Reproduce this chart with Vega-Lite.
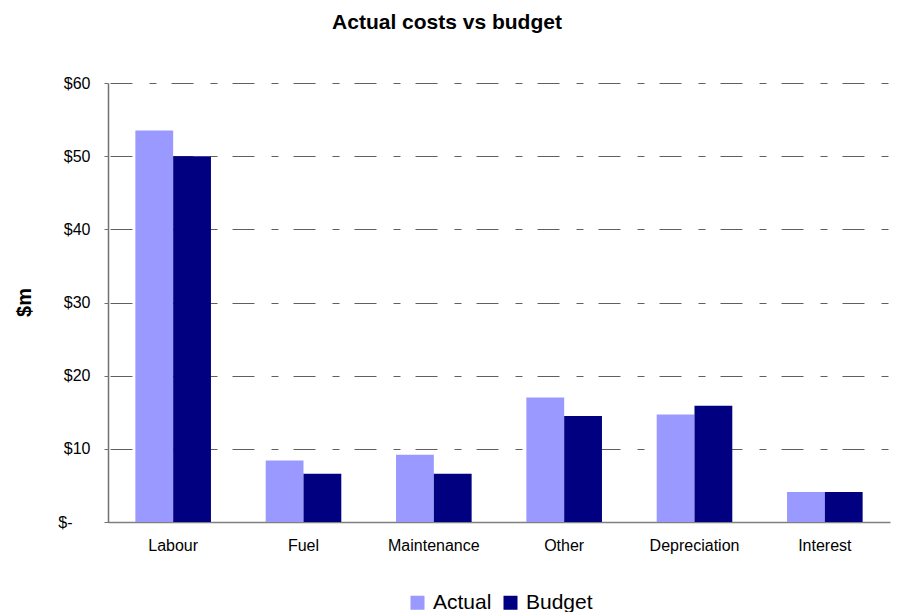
{
  "$schema": "https://vega.github.io/schema/vega-lite/v6.json",
  "width": 782,
  "height": 439,
  "autosize": {"type": "none"},
  "padding": {"left": 108, "top": 83, "right": 7, "bottom": 90},
  "background": "white",
  "title": {
    "text": "Actual costs vs budget",
    "font": "Liberation Sans",
    "fontSize": 21,
    "fontWeight": "bold",
    "color": "#000000",
    "anchor": "middle",
    "dx": -52,
    "offset": 42
  },
  "data": {
    "values": [
      {"category": "Labour", "series": "Actual", "value": 53.5},
      {"category": "Labour", "series": "Budget", "value": 50.0},
      {"category": "Fuel", "series": "Actual", "value": 8.4},
      {"category": "Fuel", "series": "Budget", "value": 6.6},
      {"category": "Maintenance", "series": "Actual", "value": 9.2},
      {"category": "Maintenance", "series": "Budget", "value": 6.6},
      {"category": "Other", "series": "Actual", "value": 17.0},
      {"category": "Other", "series": "Budget", "value": 14.5},
      {"category": "Depreciation", "series": "Actual", "value": 14.7},
      {"category": "Depreciation", "series": "Budget", "value": 15.9},
      {"category": "Interest", "series": "Actual", "value": 4.1},
      {"category": "Interest", "series": "Budget", "value": 4.1}
    ]
  },
  "mark": {"type": "bar"},
  "encoding": {
    "x": {
      "field": "category",
      "type": "nominal",
      "sort": ["Labour", "Fuel", "Maintenance", "Other", "Depreciation", "Interest"],
      "scale": {"paddingInner": 0.42, "paddingOuter": 0.21},
      "axis": {
        "title": null,
        "labelAngle": 0,
        "labelFont": "Liberation Sans",
        "labelFontSize": 16,
        "labelColor": "#000000",
        "labelPadding": 15,
        "ticks": false,
        "tickSize": 0,
        "domainColor": "#808080",
        "domainWidth": 1.5,
        "grid": false
      }
    },
    "xOffset": {
      "field": "series",
      "type": "nominal",
      "sort": ["Actual", "Budget"],
      "scale": {"paddingInner": 0, "paddingOuter": 0}
    },
    "y": {
      "field": "value",
      "type": "quantitative",
      "scale": {"domain": [0, 60], "nice": false},
      "axis": {
        "title": "$m",
        "titleFont": "Liberation Sans",
        "titleFontSize": 20,
        "titleFontWeight": "bold",
        "titleColor": "#000000",
        "titleAngle": -90,
        "titleX": -84,
        "titleY": 219,
        "titleAlign": "center",
        "titleBaseline": "middle",
        "values": [0, 10, 20, 30, 40, 50, 60],
        "labelExpr": "datum.value == 0 ? '$-' : '$' + datum.value",
        "labelFont": "Liberation Sans",
        "labelFontSize": 16,
        "labelColor": "#000000",
        "labelPadding": {"condition": {"test": "datum.value == 0", "value": 32}, "value": 14},
        "tickSize": 4,
        "tickColor": "#707070",
        "domainColor": "#707070",
        "domainWidth": 1.5,
        "grid": true,
        "gridColor": "#606060",
        "gridWidth": 1,
        "gridDash": [22, 17, 7, 15],
        "gridDashOffset": 59
      }
    },
    "color": {
      "field": "series",
      "type": "nominal",
      "scale": {"domain": ["Actual", "Budget"], "range": ["#9999FF", "#000080"]},
      "legend": {
        "title": null,
        "orient": "none",
        "direction": "horizontal",
        "legendX": 299,
        "legendY": 509,
        "padding": 0,
        "symbolType": "square",
        "symbolSize": 196,
        "symbolStrokeWidth": 0,
        "symbolOpacity": 1,
        "labelFont": "Liberation Sans",
        "labelFontSize": 21,
        "labelColor": "#000000",
        "labelOffset": 5,
        "columnPadding": 8
      }
    }
  },
  "config": {
    "view": {"stroke": null},
    "axis": {"labelFlush": false}
  }
}
